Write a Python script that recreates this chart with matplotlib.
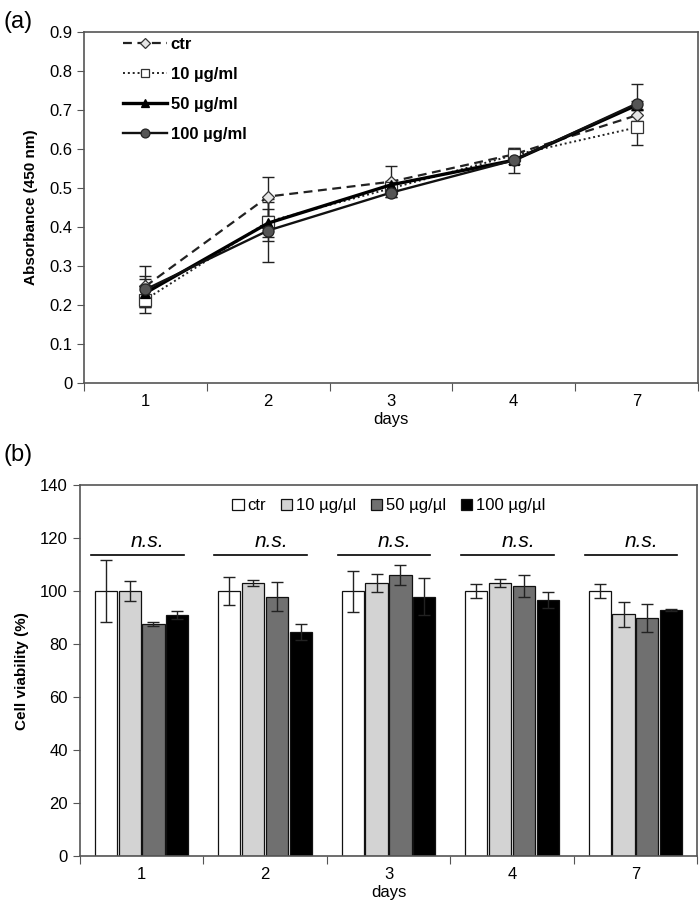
import matplotlib
matplotlib.use("Agg")
import matplotlib.pyplot as plt
import numpy as np
from matplotlib.ticker import FixedLocator, NullFormatter, FixedFormatter

plt.rcParams['font.family'] = ['Liberation Sans', 'DejaVu Sans']

days = ['1', '2', '3', '4', '7']

# Panel (a): absorbance
abs_labels = ['ctr', '10 µg/ml', '50 µg/ml', '100 µg/ml']
abs_ctr = [0.248, 0.478, 0.516, 0.586, 0.686]
abs_10 = [0.214, 0.414, 0.499, 0.584, 0.655]
abs_50 = [0.231, 0.410, 0.508, 0.571, 0.712]
abs_100 = [0.240, 0.391, 0.488, 0.571, 0.716]
err_ctr = [0.052, 0.050, 0.040, 0.017, 0.015]
err_10 = [0.035, 0.050, 0.012, 0.010, 0.045]
err_50 = [0.035, 0.035, 0.010, 0.010, 0.010]
err_100 = [0.035, 0.080, 0.010, 0.032, 0.050]

# Panel (b): cell viability
via_labels = ['ctr', '10 µg/µl', '50 µg/µl', '100 µg/µl']
via_ctr = [100, 100, 100, 100, 100]
via_10 = [100, 103, 103, 103, 91.2]
via_50 = [87.7, 97.9, 106.2, 101.8, 89.9]
via_100 = [90.9, 84.7, 97.9, 96.8, 92.9]
verr_ctr = [11.7, 5.2, 7.7, 2.6, 2.6]
verr_10 = [3.8, 1.2, 3.5, 1.6, 4.8]
verr_50 = [0.7, 5.5, 3.8, 4.1, 5.2]
verr_100 = [1.6, 3.0, 7.0, 3.0, 0.4]
ns_level = 113.5
ns_text = 'n.s.'

fig = plt.figure(figsize=(7, 9.1), dpi=100)
frame_col = '#555555'

# ---------- Panel (a) ----------
ax1 = fig.add_axes([0.12, 0.579, 0.877, 0.386])
x = np.arange(len(days))
styles = [
    dict(ls=(0, (4, 2.5)), lw=1.6, marker='D', ms=6, mfc='#e6e6e6', mec='#333333', color='#222222', mew=0.9),
    dict(ls=(0, (1, 1.5)), lw=1.4, marker='s', ms=8, mfc='white', mec='#333333', color='#222222', mew=0.9),
    dict(ls='-', lw=2.4, marker='^', ms=7, mfc='black', mec='black', color='black', mew=0.9),
    dict(ls='-', lw=1.7, marker='o', ms=8, mfc='#555555', mec='#222222', color='#111111', mew=0.9),
]
series = [abs_ctr, abs_10, abs_50, abs_100]
errs = [err_ctr, err_10, err_50, err_100]
handles = []
for vals, e, st, lab in zip(series, errs, styles, abs_labels):
    ax1.errorbar(x, vals, yerr=e, fmt='none', ecolor='#222222', elinewidth=1.0, capsize=4,
                 capthick=1.0, zorder=2)
    ln, = ax1.plot(x, vals, label=lab, zorder=3, **st)
    handles.append(ln)
ax1.set_xlim(-0.5, len(days) - 0.5)
ax1.set_ylim(0, 0.9)
ax1.set_yticks(np.arange(0, 0.91, 0.1))
ax1.set_yticklabels([f'{v:.1f}' if v > 0 else '0' for v in np.arange(0, 0.91, 0.1)])
ax1.xaxis.set_major_locator(FixedLocator(np.arange(-0.5, len(days), 1.0)))
ax1.xaxis.set_major_formatter(NullFormatter())
ax1.xaxis.set_minor_locator(FixedLocator(x))
ax1.xaxis.set_minor_formatter(FixedFormatter(days))
ax1.tick_params(axis='x', which='minor', length=0, labelsize=12, pad=8)
ax1.tick_params(axis='x', which='major', length=6, color=frame_col)
ax1.tick_params(axis='y', length=5, labelsize=12, color=frame_col)
for sp in ax1.spines.values():
    sp.set_color(frame_col)
    sp.set_linewidth(1.2)
ax1.set_ylabel('Absorbance (450 nm)', fontsize=11, fontweight='bold', labelpad=8)
ax1.set_xlabel('days', fontsize=12, labelpad=2)
ax1.legend(handles=handles, loc='upper left', bbox_to_anchor=(0.045, 1.018), frameon=False,
           handlelength=2.6, labelspacing=0.9, borderaxespad=0.3, handletextpad=0.25,
           markerscale=0.8, prop={'weight': 'bold', 'size': 12})
fig.text(0.005, 0.976, '(a)', fontsize=17, va='center', ha='left')

# ---------- Panel (b) ----------
ax2 = fig.add_axes([0.114, 0.059, 0.882, 0.408])
colors = ['white', '#d3d3d3', '#707070', 'black']
vseries = [via_ctr, via_10, via_50, via_100]
verrs = [verr_ctr, verr_10, verr_50, verr_100]
step = 0.193
width = 0.18
for i, (vals, e, c, lab) in enumerate(zip(vseries, verrs, colors, via_labels)):
    pos = x + (i - 1.5) * step
    ax2.bar(pos, vals, width=width, color=c, edgecolor='#111111', linewidth=0.9, label=lab, zorder=2)
    ax2.errorbar(pos, vals, yerr=e, fmt='none', ecolor='#222222', elinewidth=1.0,
                 capsize=4, capthick=1.0, zorder=3)
for xi in x:
    ax2.plot([xi - 0.41, xi + 0.34], [ns_level, ns_level], color='black', lw=1.2, zorder=3)
    ax2.text(xi + 0.05, ns_level + 1.5, ns_text, fontsize=15, style='italic', ha='center', va='bottom')
ax2.set_xlim(-0.5, len(days) - 0.5)
ax2.set_ylim(0, 140)
ax2.set_yticks(np.arange(0, 141, 20))
ax2.xaxis.set_major_locator(FixedLocator(np.arange(-0.5, len(days), 1.0)))
ax2.xaxis.set_major_formatter(NullFormatter())
ax2.xaxis.set_minor_locator(FixedLocator(x))
ax2.xaxis.set_minor_formatter(FixedFormatter(days))
ax2.tick_params(axis='x', which='minor', length=0, labelsize=12, pad=8)
ax2.tick_params(axis='x', which='major', length=6, color=frame_col)
ax2.tick_params(axis='y', length=5, labelsize=12, color=frame_col)
for sp in ax2.spines.values():
    sp.set_color(frame_col)
    sp.set_linewidth(1.2)
ax2.set_ylabel('Cell viability (%)', fontsize=11, fontweight='bold', labelpad=8)
ax2.set_xlabel('days', fontsize=12, labelpad=2)
ax2.legend(loc='upper center', ncol=4, frameon=False, fontsize=12, handlelength=0.7,
           handleheight=0.7, handletextpad=0.2, columnspacing=0.9, borderaxespad=0.4)
fig.text(0.005, 0.5, '(b)', fontsize=17, va='center', ha='left')

fig.savefig('out.png', dpi=100)
